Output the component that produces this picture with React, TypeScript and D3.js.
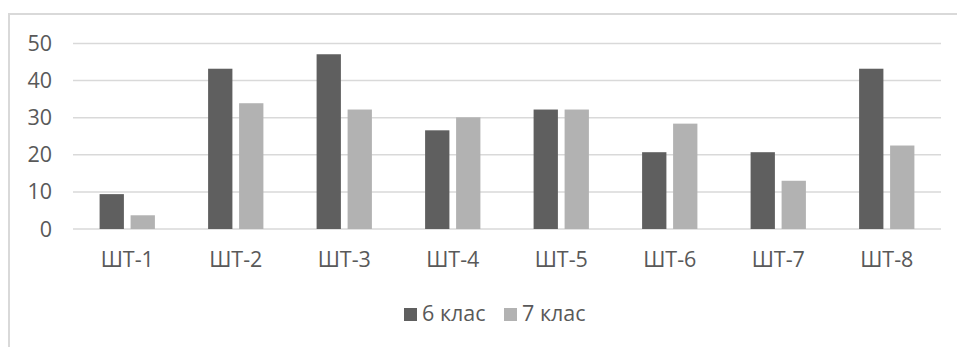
import { useEffect, useRef } from "react";
import * as d3 from "d3";

const CATEGORIES = ["ШТ-1", "ШТ-2", "ШТ-3", "ШТ-4", "ШТ-5", "ШТ-6", "ШТ-7", "ШТ-8"];
const SERIES = ["6 клас", "7 клас"];
const GRADE6 = [9.4, 43.2, 47.1, 26.6, 32.2, 20.7, 20.7, 43.2];
const GRADE7 = [3.7, 33.9, 32.2, 30.1, 32.2, 28.4, 13.0, 22.5];
const Y_TICKS = [0, 10, 20, 30, 40, 50];

const COLORS = ["#5f5f5f", "#b2b2b2"];
const TEXT = "#595959";
const GRID = "#d9d9d9";
const FONT = "'Open Sans', 'DejaVu Sans', sans-serif";
const FS = 21.5;

export default function App() {
  const svgRef = useRef<SVGSVGElement | null>(null);

  useEffect(() => {
    if (!svgRef.current) return;
    const W = 957, H = 347;
    const svg = d3.select(svgRef.current);
    svg.selectAll("*").remove();
    svg.attr("width", W).attr("height", H);

    // chart frame (right and bottom edges are cropped off)
    svg.append("path")
      .attr("d", `M9,${H + 2} L9,14 L${W + 2},14`)
      .attr("fill", "none").attr("stroke", GRID).attr("stroke-width", 2);

    const x = d3.scaleBand().domain(CATEGORIES).range([73, 941]).padding(0);
    const xInner = d3.scaleBand().domain(SERIES).range([0, x.bandwidth()])
      .paddingInner(0.216).paddingOuter(0.858);
    const y = d3.scaleLinear().domain([0, 50]).range([229, 43.5]);

    // gridlines
    svg.append("g").selectAll("line").data(Y_TICKS).join("line")
      .attr("x1", 73).attr("x2", 941)
      .attr("y1", (d) => y(d)).attr("y2", (d) => y(d))
      .attr("stroke", GRID).attr("stroke-width", 1.5);

    // y labels
    svg.append("g").selectAll("text").data(Y_TICKS).join("text")
      .attr("x", 52).attr("y", (d) => y(d)).attr("dy", "0.35em")
      .attr("text-anchor", "end")
      .attr("font-family", FONT).attr("font-size", FS).attr("fill", TEXT)
      .text((d) => String(d));

    // bars
    const values = [GRADE6, GRADE7];
    SERIES.forEach((s, si) => {
      svg.append("g").selectAll("rect").data(values[si]).join("rect")
        .attr("x", (_, i) => (x(CATEGORIES[i]) ?? 0) + (xInner(s) ?? 0))
        .attr("y", (d) => y(d))
        .attr("width", xInner.bandwidth())
        .attr("height", (d) => y(0) - y(d))
        .attr("fill", COLORS[si]);
    });

    // x labels
    svg.append("g").selectAll("text").data(CATEGORIES).join("text")
      .attr("x", (d) => (x(d) ?? 0) + x.bandwidth() / 2)
      .attr("y", 267)
      .attr("text-anchor", "middle")
      .attr("font-family", FONT).attr("font-size", FS).attr("fill", TEXT)
      .text((d) => d);

    // legend
    const legendX = [404, 504];
    SERIES.forEach((s, si) => {
      svg.append("rect")
        .attr("x", legendX[si]).attr("y", 308).attr("width", 13).attr("height", 13)
        .attr("fill", COLORS[si]);
      svg.append("text")
        .attr("x", legendX[si] + 18).attr("y", 321)
        .attr("font-family", FONT).attr("font-size", FS).attr("fill", TEXT)
        .text(s);
    });
  }, []);

  return <svg ref={svgRef} style={{ position: "absolute", left: 0, top: 0, display: "block" }} />;
}
